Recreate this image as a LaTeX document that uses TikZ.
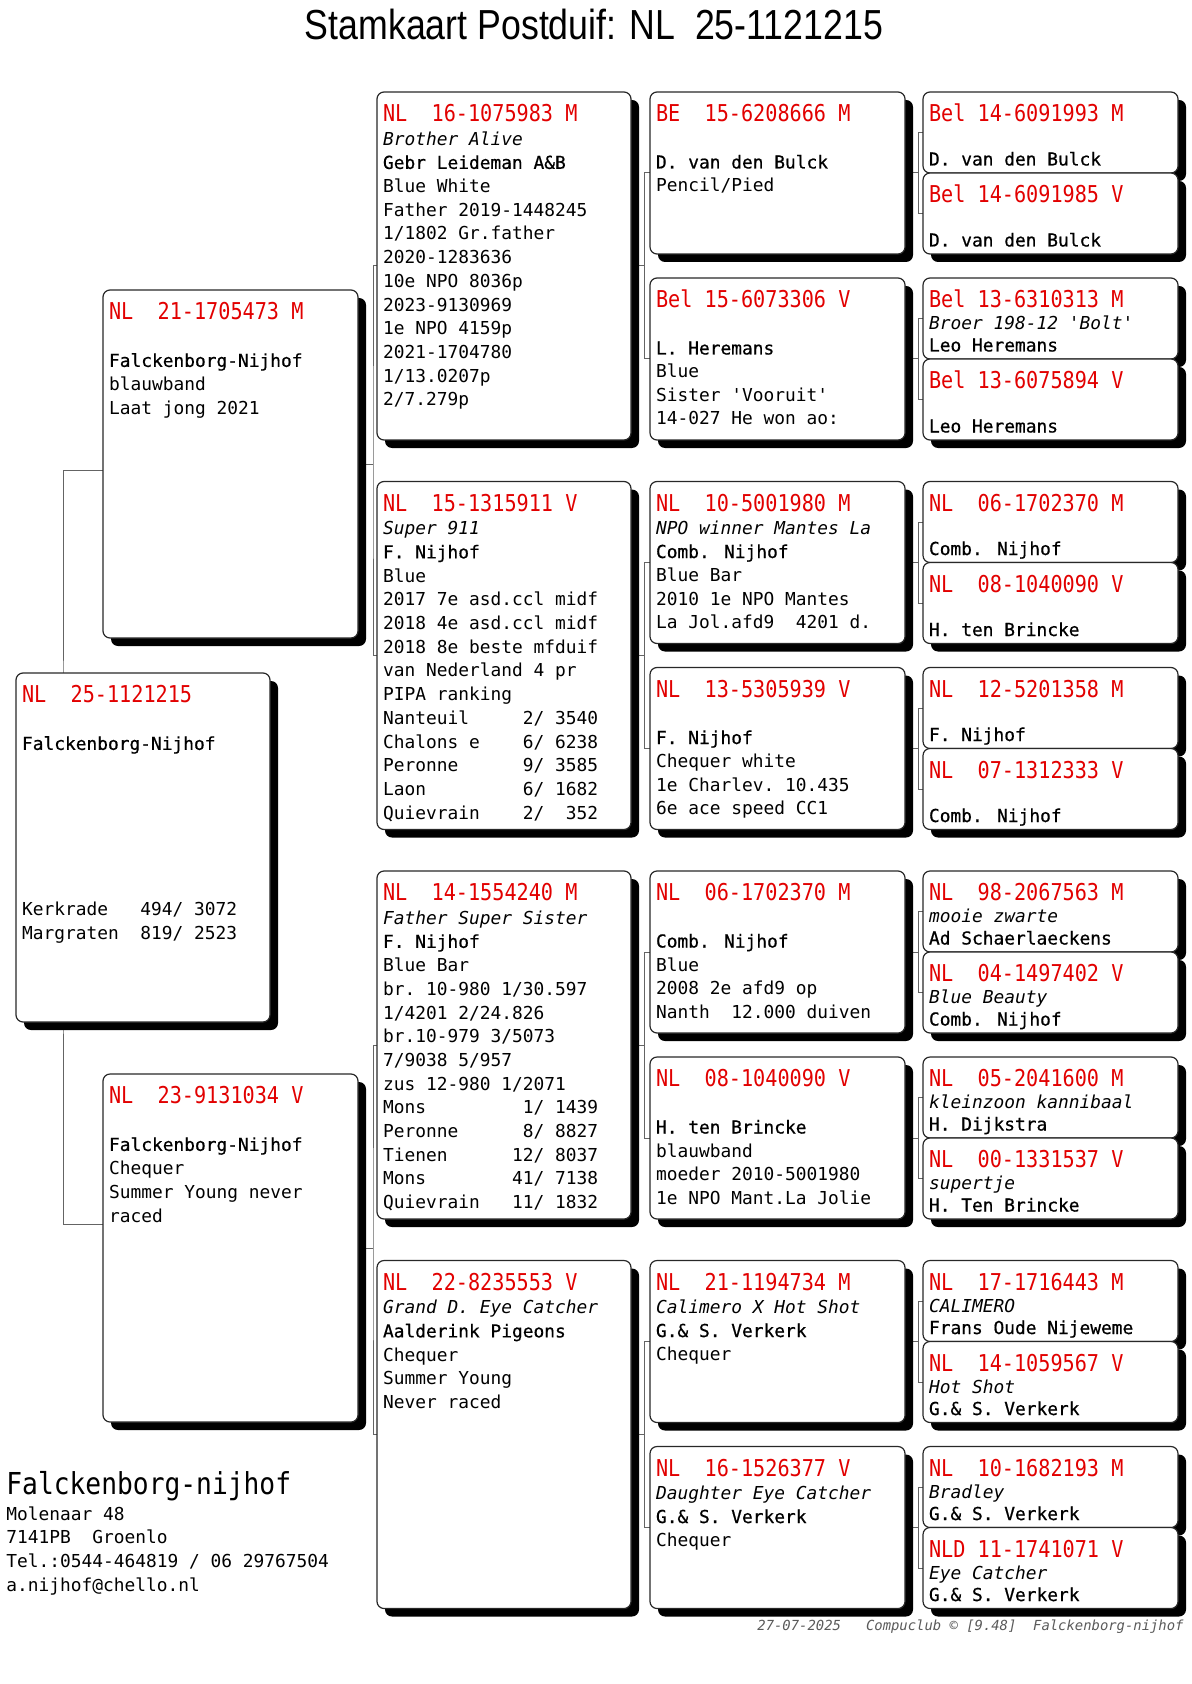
\documentclass[tikz,border=0pt]{standalone}
\usepackage{fontspec}
\usepackage{graphicx}
\setmonofont{DejaVu Sans Mono}[ItalicFont={DejaVu Sans Mono Oblique}]
\newfontfamily\pedhdrfont{DejaVu Sans Mono}[FakeStretch=0.87]
\newfontfamily\pedbreedfont{DejaVu Sans Mono}[FakeBold=0.6]
\newfontfamily\pedtitlefont{Liberation Sans}[FakeStretch=0.85]
\usetikzlibrary{shadows}
\definecolor{pedred}{RGB}{226,0,0}
\definecolor{boxline}{RGB}{40,40,40}
\definecolor{connline}{RGB}{100,100,100}
\definecolor{footgray}{RGB}{90,90,90}
\pgfdeclarelayer{paper}
\pgfdeclarelayer{lines}
\pgfsetlayers{paper,lines,main}
\newcommand\pedhd[1]{{\pedhdrfont\fontsize{11.6pt}{11pt}\selectfont\color{pedred}#1}}
\newcommand\pedbr[1]{{\pedbreedfont #1}}
\newcommand\pedtxt[2]{\parbox[t]{124pt}{\ttfamily\fontsize{8.93pt}{#1}\selectfont\lineskiplimit=-20pt\lineskip=0pt\raggedright\leavevmode #2}}
\newcommand\pedbox[7]{%
  \node[pbox, minimum width=#4, minimum height=#5] (#1) at (#2,#3) {};
  \node[ptext] (#1-t) at ([xshift=3pt,yshift=-14.75pt]#1.north west) {\pedtxt{#6}{#7}};}
\tikzset{
  pbox/.style={draw=boxline, line width=0.6pt, fill=white, rounded corners=3.5pt,
    anchor=north west, inner sep=0pt, outer sep=0pt,
    drop shadow={shadow xshift=4pt, shadow yshift=-4pt, fill=black, opacity=1}},
  ptext/.style={anchor=base west, inner sep=0pt, outer sep=0pt},
  conn/.style={draw=connline, line width=0.5pt}
}
\begin{document}
\begin{tikzpicture}[x=0.5pt,y=-0.5pt]
\begin{pgfonlayer}{paper}
\fill[white] (0,0) rectangle (1191,1684);
\end{pgfonlayer}
\useasboundingbox (0,0) rectangle (1191,1684);

\node[anchor=base, inner sep=0pt] (title) at (594,40) {\pedtitlefont\fontsize{21pt}{24pt}\selectfont Stamkaart Postduif: NL~~25-1121215};

% root and parents
\pedbox{root}{16}{673}{127pt}{174.5pt}{11.85pt}{\pedhd{NL~~25-1121215}\\ \mbox{}\\ \pedbr{Falckenborg-Nijhof}\\ \mbox{}\\ \mbox{}\\ \mbox{}\\ \mbox{}\\ \mbox{}\\ \mbox{}\\ Kerkrade~~~494/ 3072\\ Margraten~~819/ 2523}
\pedbox{sire}{103}{290}{127.5pt}{174pt}{11.85pt}{\pedhd{NL~~21-1705473 M}\\ \mbox{}\\ \pedbr{Falckenborg-Nijhof}\\ blauwband\\ Laat jong 2021}
\pedbox{dam}{103}{1074}{127.5pt}{174pt}{11.85pt}{\pedhd{NL~~23-9131034 V}\\ \mbox{}\\ \pedbr{Falckenborg-Nijhof}\\ Chequer\\ Summer Young never\\ raced}

% grandparents
\pedbox{c2a}{377}{92}{127pt}{174pt}{11.85pt}{\pedhd{NL~~16-1075983 M}\\ \textit{Brother Alive}\\ \pedbr{Gebr Leideman A\&B}\\ Blue White\\ Father 2019-1448245\\ 1/1802 Gr.father\\ 2020-1283636\\ 10e NPO 8036p\\ 2023-9130969\\ 1e NPO 4159p\\ 2021-1704780\\ 1/13.0207p\\ 2/7.279p}
\pedbox{c2b}{377}{481.5}{127pt}{174pt}{11.85pt}{\pedhd{NL~~15-1315911 V}\\ \textit{Super 911}\\ \pedbr{F. Nijhof}\\ Blue\\ 2017 7e asd.ccl midf\\ 2018 4e asd.ccl midf\\ 2018 8e beste mfduif\\ van Nederland 4 pr\\ PIPA ranking\\ Nanteuil~~~~~2/ 3540\\ Chalons e~~~~6/ 6238\\ Peronne~~~~~~9/ 3585\\ Laon~~~~~~~~~6/ 1682\\ Quievrain~~~~2/~~352}
\pedbox{c2c}{377}{871}{127pt}{174pt}{11.85pt}{\pedhd{NL~~14-1554240 M}\\ \textit{Father Super Sister}\\ \pedbr{F. Nijhof}\\ Blue Bar\\ br. 10-980 1/30.597\\ 1/4201 2/24.826\\ br.10-979 3/5073\\ 7/9038 5/957\\ zus 12-980 1/2071\\ Mons~~~~~~~~~1/ 1439\\ Peronne~~~~~~8/ 8827\\ Tienen~~~~~~12/ 8037\\ Mons~~~~~~~~41/ 7138\\ Quievrain~~~11/ 1832}
\pedbox{c2d}{377}{1260.5}{127pt}{174pt}{11.85pt}{\pedhd{NL~~22-8235553 V}\\ \textit{Grand D. Eye Catcher}\\ \pedbr{Aalderink Pigeons}\\ Chequer\\ Summer Young\\ Never raced}

% great-grandparents
\pedbox{c3a}{650}{92}{127.5pt}{81pt}{11.75pt}{\pedhd{BE~~15-6208666 M}\\ \mbox{}\\ \pedbr{D. van den Bulck}\\ Pencil/Pied}
\pedbox{c3b}{650}{278}{127.5pt}{81pt}{11.75pt}{\pedhd{Bel 15-6073306 V}\\ \mbox{}\\ \pedbr{L. Heremans}\\ Blue\\ Sister 'Vooruit'\\ 14-027 He won ao:}
\pedbox{c3c}{650}{481.5}{127.5pt}{81pt}{11.75pt}{\pedhd{NL~~10-5001980 M}\\ \textit{NPO winner Mantes La}\\ \pedbr{Comb. Nijhof}\\ Blue Bar\\ 2010 1e NPO Mantes\\ La Jol.afd9~~4201 d.}
\pedbox{c3d}{650}{667.5}{127.5pt}{81pt}{11.75pt}{\pedhd{NL~~13-5305939 V}\\ \mbox{}\\ \pedbr{F. Nijhof}\\ Chequer white\\ 1e Charlev. 10.435\\ 6e ace speed CC1}
\pedbox{c3e}{650}{871}{127.5pt}{81pt}{11.75pt}{\pedhd{NL~~06-1702370 M}\\ \mbox{}\\ \pedbr{Comb. Nijhof}\\ Blue\\ 2008 2e afd9 op\\ Nanth~~12.000 duiven}
\pedbox{c3f}{650}{1057}{127.5pt}{81pt}{11.75pt}{\pedhd{NL~~08-1040090 V}\\ \mbox{}\\ \pedbr{H. ten Brincke}\\ blauwband\\ moeder 2010-5001980\\ 1e NPO Mant.La Jolie}
\pedbox{c3g}{650}{1260.5}{127.5pt}{81pt}{11.75pt}{\pedhd{NL~~21-1194734 M}\\ \textit{Calimero X Hot Shot}\\ \pedbr{G.\& S. Verkerk}\\ Chequer}
\pedbox{c3h}{650}{1446.5}{127.5pt}{81pt}{11.75pt}{\pedhd{NL~~16-1526377 V}\\ \textit{Daughter Eye Catcher}\\ \pedbr{G.\& S. Verkerk}\\ Chequer}

% great-great-grandparents
\pedbox{c4a}{923}{92}{127.5pt}{40.5pt}{11pt}{\pedhd{Bel 14-6091993 M}\\ \mbox{}\\ \pedbr{D. van den Bulck}}
\pedbox{c4b}{923}{173}{127.5pt}{40.5pt}{11pt}{\pedhd{Bel 14-6091985 V}\\ \mbox{}\\ \pedbr{D. van den Bulck}}
\pedbox{c4c}{923}{278}{127.5pt}{40.5pt}{11pt}{\pedhd{Bel 13-6310313 M}\\ \textit{Broer 198-12 'Bolt'}\\ \pedbr{Leo Heremans}}
\pedbox{c4d}{923}{359}{127.5pt}{40.5pt}{11pt}{\pedhd{Bel 13-6075894 V}\\ \mbox{}\\ \pedbr{Leo Heremans}}
\pedbox{c4e}{923}{481.5}{127.5pt}{40.5pt}{11pt}{\pedhd{NL~~06-1702370 M}\\ \mbox{}\\ \pedbr{Comb. Nijhof}}
\pedbox{c4f}{923}{562.5}{127.5pt}{40.5pt}{11pt}{\pedhd{NL~~08-1040090 V}\\ \mbox{}\\ \pedbr{H. ten Brincke}}
\pedbox{c4g}{923}{667.5}{127.5pt}{40.5pt}{11pt}{\pedhd{NL~~12-5201358 M}\\ \mbox{}\\ \pedbr{F. Nijhof}}
\pedbox{c4h}{923}{748.5}{127.5pt}{40.5pt}{11pt}{\pedhd{NL~~07-1312333 V}\\ \mbox{}\\ \pedbr{Comb. Nijhof}}
\pedbox{c4i}{923}{871}{127.5pt}{40.5pt}{11pt}{\pedhd{NL~~98-2067563 M}\\ \textit{mooie zwarte}\\ \pedbr{Ad Schaerlaeckens}}
\pedbox{c4j}{923}{952}{127.5pt}{40.5pt}{11pt}{\pedhd{NL~~04-1497402 V}\\ \textit{Blue Beauty}\\ \pedbr{Comb. Nijhof}}
\pedbox{c4k}{923}{1057}{127.5pt}{40.5pt}{11pt}{\pedhd{NL~~05-2041600 M}\\ \textit{kleinzoon kannibaal}\\ \pedbr{H. Dijkstra}}
\pedbox{c4l}{923}{1138}{127.5pt}{40.5pt}{11pt}{\pedhd{NL~~00-1331537 V}\\ \textit{supertje}\\ \pedbr{H. Ten Brincke}}
\pedbox{c4m}{923}{1260.5}{127.5pt}{40.5pt}{11pt}{\pedhd{NL~~17-1716443 M}\\ \textit{CALIMERO}\\ \pedbr{Frans Oude Nijeweme}}
\pedbox{c4n}{923}{1341.5}{127.5pt}{40.5pt}{11pt}{\pedhd{NL~~14-1059567 V}\\ \textit{Hot Shot}\\ \pedbr{G.\& S. Verkerk}}
\pedbox{c4o}{923}{1446.5}{127.5pt}{40.5pt}{11pt}{\pedhd{NL~~10-1682193 M}\\ \textit{Bradley}\\ \pedbr{G.\& S. Verkerk}}
\pedbox{c4p}{923}{1527.5}{127.5pt}{40.5pt}{11pt}{\pedhd{NLD 11-1741071 V}\\ \textit{Eye Catcher}\\ \pedbr{G.\& S. Verkerk}}

% connectors (behind the boxes)
\begin{pgfonlayer}{lines}
\coordinate (rj) at (63,847);
\draw[conn] ([yshift=-3pt]sire.west) -| (rj) |- ([yshift=12pt]dam.west);
\draw[conn] (sire.east) -- ++(7.5pt,0) coordinate (j1) (c2a.west) -| (j1) |- (c2b.west);
\draw[conn] (dam.east) -- ++(7.5pt,0) coordinate (j2) (c2c.west) -| (j2) |- (c2d.west);
\draw[conn] (c2a.east) -- ++(6.5pt,0) coordinate (j3) (c3a.west) -| (j3) |- (c3b.west);
\draw[conn] (c2b.east) -- ++(6.5pt,0) coordinate (j4) (c3c.west) -| (j4) |- (c3d.west);
\draw[conn] (c2c.east) -- ++(6.5pt,0) coordinate (j5) (c3e.west) -| (j5) |- (c3f.west);
\draw[conn] (c2d.east) -- ++(6.5pt,0) coordinate (j6) (c3g.west) -| (j6) |- (c3h.west);
\draw[conn] (c3a.east) -- ++(6.5pt,0) coordinate (k1) (c4a.west) -| (k1) |- (c4b.west);
\draw[conn] (c3b.east) -- ++(6.5pt,0) coordinate (k2) (c4c.west) -| (k2) |- (c4d.west);
\draw[conn] (c3c.east) -- ++(6.5pt,0) coordinate (k3) (c4e.west) -| (k3) |- (c4f.west);
\draw[conn] (c3d.east) -- ++(6.5pt,0) coordinate (k4) (c4g.west) -| (k4) |- (c4h.west);
\draw[conn] (c3e.east) -- ++(6.5pt,0) coordinate (k5) (c4i.west) -| (k5) |- (c4j.west);
\draw[conn] (c3f.east) -- ++(6.5pt,0) coordinate (k6) (c4k.west) -| (k6) |- (c4l.west);
\draw[conn] (c3g.east) -- ++(6.5pt,0) coordinate (k7) (c4m.west) -| (k7) |- (c4n.west);
\draw[conn] (c3h.east) -- ++(6.5pt,0) coordinate (k8) (c4o.west) -| (k8) |- (c4p.west);
\end{pgfonlayer}

% owner block and footer
\node[anchor=base west, inner sep=0pt] (ownername) at (6,1494) {\pedhdrfont\fontsize{15.1pt}{16pt}\selectfont Falckenborg-nijhof};
\node[anchor=base west, inner sep=0pt] (owneraddr) at (6,1520) {\parbox[t]{220pt}{\ttfamily\fontsize{8.93pt}{11.85pt}\selectfont\raggedright\leavevmode Molenaar 48\\ 7141PB~~Groenlo\\ Tel.:0544-464819 / 06 29767504\\ a.nijhof@chello.nl}};
\node[anchor=base west, inner sep=0pt] (footer) at (757,1630) {\ttfamily\itshape\fontsize{6.94pt}{8pt}\selectfont\color{footgray}27-07-2025~~~Compuclub © [9.48]~~Falckenborg-nijhof};
\end{tikzpicture}
\end{document}
